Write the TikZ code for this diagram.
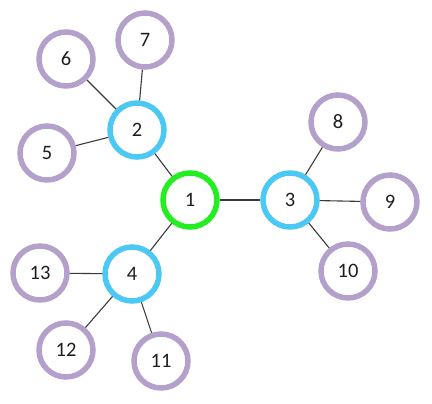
\documentclass[tikz,border=0pt]{standalone}
\usepackage{fontspec}
\setmainfont{Carlito}
\usepackage{tikz}
\usetikzlibrary{positioning}
\definecolor{rootgreen}{HTML}{22EE22}
\definecolor{midblue}{HTML}{4CC8F4}
\definecolor{leafpurple}{HTML}{B3A1CC}
\definecolor{edgegray}{HTML}{3A3A3A}
\definecolor{textdark}{HTML}{1E1E1E}

\begin{document}
\begin{tikzpicture}[x=1pt, y=-1pt,
  vertex/.style={circle, fill=white, minimum size=54pt, inner sep=0pt,
                 line width=5.5pt, font=\fontsize{20.5}{20.5}\selectfont, text=textdark},
  root/.style={vertex, draw=rootgreen},
  mid/.style={vertex, draw=midblue},
  leaf/.style={vertex, draw=leafpurple},
  edge/.style={draw=edgegray, line width=1.1pt}
]
  \useasboundingbox (0,0) rectangle (432,404);

  \node[root] (n1)  at (190,200) {1};
  \node[mid]  (n2)  at (137,130) {2};
  \node[mid]  (n3)  at (290,200) {3};
  \node[mid]  (n4)  at (132,274) {4};
  \node[leaf] (n5)  at (47,153)  {5};
  \node[leaf] (n6)  at (66,59)   {6};
  \node[leaf] (n7)  at (145,40)  {7};
  \node[leaf] (n8)  at (338,122) {8};
  \node[leaf] (n9)  at (390,202) {9};
  \node[leaf] (n10) at (348,271) {10};
  \node[leaf] (n11) at (161,361) {11};
  \node[leaf] (n12) at (66,350)  {12};
  \node[leaf] (n13) at (40,273)  {13};

  \draw[edge] (n1) -- (n2);
  \draw[edge] (n1) -- (n3);
  \draw[edge] (n1) -- (n4);
  \draw[edge] (n2) -- (n5);
  \draw[edge] (n2) -- (n6);
  \draw[edge] (n2) -- (n7);
  \draw[edge] (n3) -- (n8);
  \draw[edge] (n3) -- (n9);
  \draw[edge] (n3) -- (n10);
  \draw[edge] (n4) -- (n11);
  \draw[edge] (n4) -- (n12);
  \draw[edge] (n4) -- (n13);
\end{tikzpicture}
\end{document}
